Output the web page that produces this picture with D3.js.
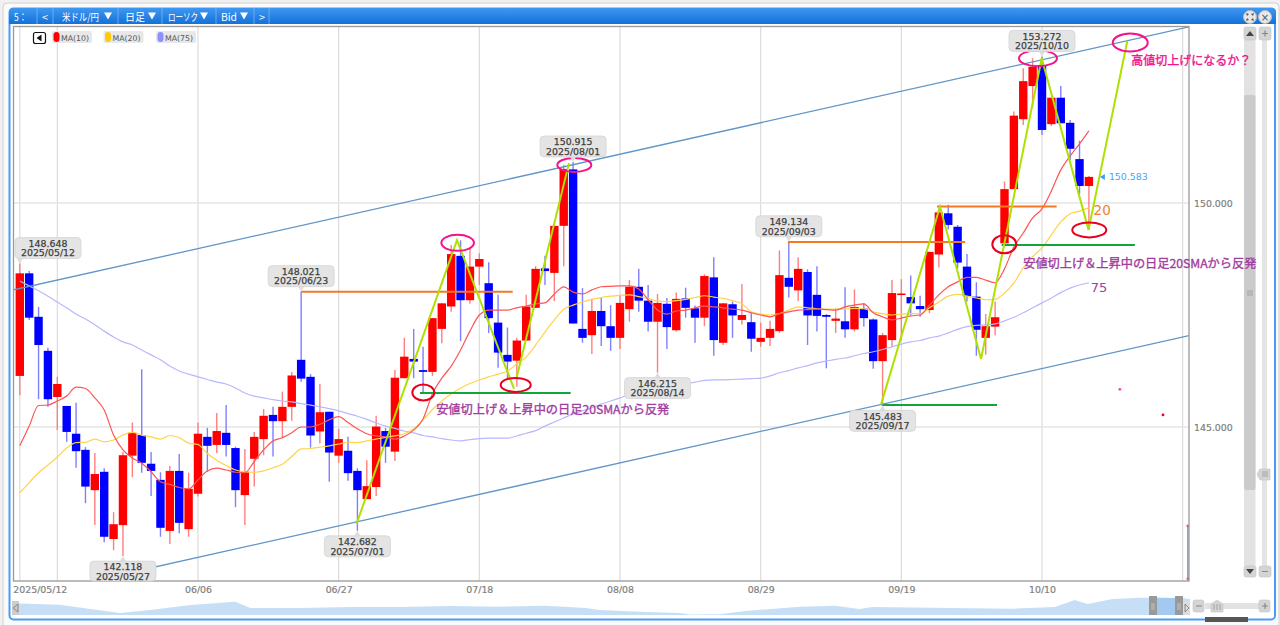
<!DOCTYPE html>
<html><head><meta charset="utf-8">
<script src="https://cdnjs.cloudflare.com/ajax/libs/d3/7.9.0/d3.min.js"></script>
<style>html,body{margin:0;padding:0;background:#f1f1f1;overflow:hidden}svg{display:block}</style>
</head><body><svg id="c" width="1280" height="625"></svg>
<script>
const dates=["05/12","05/13","05/14","05/15","05/16","05/19","05/20","05/21","05/22","05/23","05/26","05/27","05/28","05/29","05/30",
"06/02","06/03","06/04","06/05","06/06","06/09","06/10","06/11","06/12","06/13","06/16","06/17","06/18","06/19","06/20","06/23","06/24","06/25","06/26","06/27",
"06/30","07/01","07/02","07/03","07/04","07/07","07/08","07/09","07/10","07/11","07/14","07/15","07/16","07/17","07/18",
"07/21","07/22","07/23","07/24","07/25","07/28","07/29","07/30","07/31","08/01","08/04","08/05","08/06","08/07","08/08",
"08/11","08/12","08/13","08/14","08/15","08/18","08/19","08/20","08/21","08/22","08/25","08/26","08/27","08/28","08/29",
"09/01","09/02","09/03","09/04","09/05","09/08","09/09","09/10","09/11","09/12","09/15","09/16","09/17","09/18","09/19",
"09/22","09/23","09/24","09/25","09/26","09/29","09/30","10/01","10/02","10/03","10/06","10/07","10/08","10/09","10/10",
"10/13","10/14","10/15","10/16","10/17"];
const open=[146.14,148.43,147.46,146.70,145.67,145.47,144.85,144.49,143.59,144.00,142.50,142.81,144.36,144.82,144.18,143.82,142.68,144.02,142.72,143.51,144.78,144.60,144.87,144.53,143.48,144.29,144.73,145.27,145.13,145.45,146.50,146.12,144.90,145.34,144.36,144.47,144.02,143.39,143.66,144.91,144.45,146.09,146.52,146.27,146.23,147.19,147.69,148.82,147.83,148.58,148.21,147.33,146.61,146.48,146.93,147.66,148.54,148.44,149.49,150.75,147.19,147.05,147.59,147.25,146.99,147.63,148.13,147.82,147.35,147.75,147.16,147.87,147.65,147.44,148.34,146.88,147.74,147.39,147.34,146.90,146.99,147.14,148.33,148.05,148.46,147.95,147.50,147.37,147.36,147.18,147.64,147.40,146.47,146.94,147.96,147.90,147.70,147.61,148.85,149.77,149.47,148.58,147.91,146.99,147.24,149.10,150.31,151.87,152.61,153.08,151.76,152.35,151.79,150.98,150.38];
const high=[148.648,148.48,147.68,146.77,146.12,145.47,145.54,144.55,144.42,144.08,143.10,144.44,145.10,146.29,144.44,143.99,144.13,144.40,143.98,145.10,144.98,145.31,145.49,144.56,144.51,144.89,145.40,145.45,145.79,146.23,148.021,146.18,145.96,145.34,144.96,144.78,144.08,144.26,145.25,144.98,146.27,146.99,147.19,146.79,147.43,147.77,149.06,149.17,149.02,148.88,148.68,147.95,147.22,146.99,147.95,148.59,148.82,149.50,150.85,150.915,148.10,147.86,147.88,147.72,147.95,148.28,148.53,148.17,147.97,147.88,148.00,148.11,147.71,148.41,148.79,147.77,147.80,148.19,147.55,147.33,147.37,148.94,149.134,148.79,148.52,148.59,147.52,147.65,148.12,148.07,147.77,147.42,147.10,148.28,148.30,148.38,147.93,148.91,149.87,149.96,149.51,148.86,148.23,147.52,147.80,150.48,152.04,153.01,153.23,153.272,152.35,152.61,151.85,151.39,150.60];
const low=[145.71,147.39,145.62,145.45,144.93,144.67,144.09,143.30,142.81,142.43,142.25,142.118,143.88,143.98,143.46,142.55,142.39,142.63,142.55,143.45,144.00,144.42,144.34,143.21,142.81,143.67,144.37,144.34,144.75,145.14,146.01,144.54,144.63,143.78,144.20,143.80,142.682,143.39,143.46,144.20,144.24,146.09,146.09,145.76,146.14,146.87,147.57,146.92,147.75,148.17,147.10,146.32,146.09,145.90,146.93,147.66,148.17,147.81,148.59,147.31,146.88,146.63,146.81,146.70,146.74,147.35,147.57,147.13,146.215,146.74,147.13,147.44,146.88,147.25,146.59,146.83,146.99,147.29,146.68,146.79,146.81,147.10,147.89,147.81,146.83,147.13,146.31,147.10,146.99,147.13,147.24,146.30,145.483,146.79,146.94,147.50,147.46,147.54,148.56,149.41,148.54,147.80,146.59,146.61,147.05,149.06,150.31,151.74,152.13,151.52,151.72,151.78,150.96,150.20,149.40];
const close=[148.43,147.44,146.83,145.62,145.96,144.89,144.46,143.67,143.95,142.55,142.83,144.37,144.87,144.20,144.02,142.75,144.02,142.86,143.62,144.85,144.58,144.91,144.60,143.59,144.00,144.78,145.25,145.13,145.45,146.15,146.08,144.81,145.33,144.43,144.73,143.97,143.59,143.68,145.01,144.56,146.10,146.57,146.46,146.23,147.43,147.76,148.86,147.83,148.58,148.75,147.43,146.66,146.46,146.93,147.69,148.53,148.48,149.49,150.76,147.31,146.99,147.59,147.25,146.99,147.77,148.13,147.82,147.35,147.77,147.23,147.86,147.66,147.44,148.37,146.94,147.76,147.49,147.50,146.97,146.99,147.19,148.39,148.13,148.53,147.49,147.48,147.46,147.42,147.18,147.68,147.43,146.47,147.05,147.99,147.98,147.76,147.63,148.91,149.79,149.51,148.67,147.92,147.17,147.25,147.45,150.31,151.95,152.72,153.04,151.63,152.35,151.78,151.21,150.38,150.583];
const ma10=[144.58,145.02,145.48,145.49,145.58,145.69,145.89,145.86,145.65,145.38,144.82,144.49,144.31,144.19,144.00,143.78,143.72,143.65,143.62,143.82,144.02,144.08,144.04,143.99,143.98,144.23,144.49,144.69,144.76,144.87,145.00,145.00,145.06,145.16,145.23,145.10,144.96,144.85,144.80,144.78,144.73,144.80,144.93,145.18,145.74,146.09,146.36,146.72,147.14,147.50,147.61,147.61,147.61,147.66,147.70,147.75,147.77,147.97,148.13,148.01,147.97,148.06,148.13,148.14,148.15,148.15,148.08,147.84,147.61,147.52,147.59,147.61,147.66,147.70,147.68,147.66,147.63,147.61,147.55,147.50,147.46,147.53,147.57,147.61,147.62,147.63,147.62,147.61,147.68,147.72,147.75,147.55,147.46,147.39,147.43,147.48,147.50,147.72,147.95,148.13,148.24,148.34,148.34,148.28,148.22,148.53,149.02,149.33,149.67,149.87,150.27,150.74,151.05,151.32,151.61];
const ma20=[143.53,143.76,143.98,144.15,144.33,144.53,144.65,144.66,144.73,144.67,144.71,144.82,144.88,144.82,144.78,144.73,144.81,144.76,144.64,144.61,144.41,144.26,144.14,144.04,144.00,143.99,144.02,144.09,144.17,144.34,144.51,144.52,144.55,144.58,144.62,144.66,144.65,144.69,144.73,144.77,144.80,144.85,144.96,145.16,145.39,145.58,145.74,145.87,145.97,146.05,146.12,146.18,146.25,146.41,146.56,146.83,147.12,147.39,147.63,147.72,147.79,147.85,147.89,147.92,147.94,147.95,147.91,147.87,147.81,147.80,147.82,147.85,147.89,147.93,147.90,147.87,147.82,147.75,147.57,147.52,147.50,147.53,147.61,147.68,147.66,147.64,147.63,147.63,147.63,147.65,147.64,147.57,147.53,147.50,147.52,147.53,147.53,147.66,147.79,147.92,147.96,147.92,147.88,147.84,147.85,147.99,148.21,148.55,148.80,149.00,149.29,149.58,149.76,149.82,149.89];
const ma75=[148.26,148.15,148.04,147.92,147.79,147.66,147.52,147.41,147.28,147.14,147.01,146.90,146.83,146.72,146.61,146.50,146.36,146.25,146.18,146.12,146.06,146.00,145.96,145.87,145.76,145.69,145.65,145.61,145.58,145.56,145.52,145.49,145.45,145.41,145.36,145.30,145.24,145.17,145.09,145.02,144.97,144.91,144.87,144.81,144.78,144.74,144.71,144.69,144.72,144.74,144.75,144.75,144.75,144.80,144.86,144.92,145.02,145.11,145.20,145.29,145.36,145.43,145.51,145.58,145.65,145.72,145.77,145.82,145.84,145.86,145.90,145.96,146.00,146.04,146.05,146.05,146.06,146.07,146.08,146.09,146.14,146.21,146.26,146.32,146.37,146.43,146.47,146.51,146.54,146.59,146.64,146.68,146.73,146.79,146.85,146.90,146.93,146.99,147.03,147.10,147.18,147.24,147.27,147.28,147.30,147.37,147.45,147.55,147.66,147.77,147.88,148.00,148.10,148.17,148.22];
const xTickDays=[0,4,19,34,49,64,79,94,109,124];
const xTickLabels=["2025/05/12","","06/06","06/27","07/18","08/08","08/29","09/19","10/10",""];
const yTicks=[145,150];
const calloutDays=[0,11,30,36,59,68,82,92,109];
const calloutAbove=[1,0,1,0,1,0,1,0,1];
const lastPrice=150.583;
const navPos=[0,0.5,3.9,6.5,9,11.6,15,18.8,20.1,24.3,28.6,32.8,37.1,41.3,45.2,48.6,49.8,53.2,56.6,57.5,60,62.2,66.8,69.8,71.9,73,79.6,85,88.5,90.2,91.3,93.4,95.7,99.2,100];
const navLevel=[12,11.5,10.3,6,2,5,10,13.3,7,7,8,8,9,8.3,9.3,7,5,3.3,2,0.5,0.7,4,8.3,9.3,6,8,7,6.3,8,15,11,16,17.3,17,16];
// overlay drawings, in [day index, price]
const channelLines=[[[-0.69,148.06],[124.68,153.93]],[[8.2,141.585],[124.68,147.04]],[[124.55,142.79],[124.55,141.585]]];
const limeLines=[[[35.9,142.835],[46.62,149.17],[52.7,145.85]],[[52.96,146.09],[58.56,150.89]],[[91.83,145.5],[98.12,149.92],[102.5,146.52],[108.97,153.23],[113.96,149.4],[118.1,153.62]]];
const orangeLines=[[[29.98,148.02],[52.56,148.02]],[[81.9,149.13],[100.8,149.13]],[[97.8,149.92],[110.56,149.92]]];
const greenLines=[[[42.67,145.76],[58.74,145.76]],[[91.9,145.49],[104.2,145.49]],[[104.7,149.06],[118.9,149.06]]];
const pinkRings=[[46.69,149.11,16.3,8],[59.13,150.85,17,7],[108.57,153.23,19,8],[118.41,153.58,17.5,9]];
const redRings=[[43.03,145.77,11,8],[52.88,145.94,15,7],[104.98,149.08,12,9],[114.04,149.4,17,7.5]];
const dots=[[117.3,145.84,"#ff40b0"],[121.9,145.27,"#e8001c"],[124.55,142.79,"#ff5050"],[124.55,141.61,"#ff5050"]];
const notes=[["安値切上げ＆上昇中の日足20SMAから反発",44.4,145.28,"#a23ca0"],["安値切上げ＆上昇中の日足20SMAから反発",107,148.56,"#a23ca0"],["高値切上げになるか？",118.52,153.07,"#f0148c"]];
const maLabels=[["20",114.5,149.73,"#f08030",13.5],["75",114.2,148.02,"#a23ca0",13]];

const svg=d3.select("#c");
const F='"DejaVu Sans",sans-serif', J='"Noto Sans CJK JP",sans-serif';
const P={l:14,r:1189,t:26.5,b:581};
const x=d3.scaleLinear().domain([0,114]).range([19.8,1088.9]);
const y=d3.scaleLinear().domain([145,150]).range([427,203]);
const defs=svg.append("defs");
const g0=defs.append("linearGradient").attr("id","hd").attr("x1",0).attr("x2",0).attr("y1",0).attr("y2",1);
g0.append("stop").attr("offset",0).attr("stop-color","#3f97f2");g0.append("stop").attr("offset",1).attr("stop-color","#1371d8");
defs.append("clipPath").attr("id","plot").append("rect").attr("x",P.l).attr("y",P.t).attr("width",P.r-P.l).attr("height",P.b-P.t);

// window
svg.append("rect").attr("x",3).attr("y",3).attr("width",1276).attr("height",630).attr("rx",4).attr("fill","#fafafa").attr("stroke","#d0d0d0");
svg.append("rect").attr("x",9.5).attr("y",8.5).attr("width",1265.5).attr("height",611).attr("rx",4).attr("fill","#fff").attr("stroke","#4a9cf5").attr("stroke-width",2);
svg.append("path").attr("d","M9 24V12q0-4 4-4H1272q4 0 4 4V24Z").attr("fill","url(#hd)");
// header labels: [text, left, width]
const hdr=[["5：",14,13],["<",42,6],["米ドル/円",62,37],["日足",125,20],["ローソク",168,30],["Bid",221,16],[">",259,6]];
svg.selectAll(".h").data(hdr).join("text").attr("x",d=>d[1]).attr("y",20.5).attr("textLength",d=>d[2]).attr("lengthAdjust","spacingAndGlyphs").attr("font-family",J).attr("font-size",10.5).attr("fill","#fff").text(d=>d[0]);
svg.selectAll(".t").data([104,148,200,240]).join("path").attr("d",d=>`M${d} 12.5h8l-4 7z`).attr("fill","#fff");
svg.selectAll(".s").data([37,53,118,162,216,254,269]).join("line").attr("x1",d=>d).attr("x2",d=>d).attr("y1",8).attr("y2",24).attr("stroke","#7ab4ee").attr("stroke-width",.8);
[1250,1265].forEach(c=>{svg.append("circle").attr("cx",c).attr("cy",17).attr("r",6.5).attr("fill","#e8e8e8").attr("stroke","#bbb");});
svg.append("text").attr("x",1265).attr("y",20.5).attr("text-anchor","middle").attr("font-size",10).attr("font-family",F).attr("fill","#555").text("×");
svg.append("path").attr("d","M1246 13l3 1-2 2zM1254 13l-3 1 2 2zM1246 21l3-1-2-2zM1254 21l-3-1 2-2z").attr("fill","#555");

// grid
const plot=svg.append("g").attr("clip-path","url(#plot)");
plot.selectAll(".vg").data(xTickDays).join("line").attr("x1",d=>x(d)).attr("x2",d=>x(d)).attr("y1",P.t).attr("y2",P.b).attr("stroke","#dcdcdc").attr("stroke-width",1.2);
plot.selectAll(".hg").data(yTicks).join("line").attr("x1",P.l).attr("x2",P.r).attr("y1",d=>y(d)).attr("y2",d=>y(d)).attr("stroke","#e4e4e4").attr("stroke-width",1.5);

// candles
const idx=d3.range(dates.length), up=i=>close[i]>=open[i];
const C={u:"#ff0000",d:"#0000ff",uw:"#ff7f7f",dw:"#7f7fff"};
plot.selectAll(".w").data(idx).join("line").attr("x1",x).attr("x2",x).attr("y1",i=>y(high[i])).attr("y2",i=>y(low[i])).attr("stroke",i=>up(i)?C.uw:C.dw).attr("stroke-width",1.4);
plot.selectAll(".b").data(idx).join("rect").attr("x",i=>x(i)-4.2).attr("width",8.4).attr("y",i=>y(Math.max(open[i],close[i]))).attr("height",i=>Math.max(1.5,Math.abs(y(open[i])-y(close[i])))).attr("fill",i=>up(i)?C.u:C.d);

// moving averages
const ln=d3.line().x((d,i)=>x(i)).y(d=>y(d)).curve(d3.curveMonotoneX);
[[ma75,"#b8b8ff"],[ma20,"#ffd348"],[ma10,"#ff5555"]].forEach(([s,c])=>plot.append("path").attr("d",ln(s)).attr("fill","none").attr("stroke",c).attr("stroke-width",1.2));

// drawings
const seg=d3.line().x(d=>x(d[0])).y(d=>y(d[1]));
const draw=(arr,c,w)=>plot.selectAll(null).data(arr).join("path").attr("d",seg).attr("fill","none").attr("stroke",c).attr("stroke-width",w);
draw(orangeLines,"#f87820",2);draw(greenLines,"#12a53c",2);draw(channelLines,"#6095c6",1.3);draw(limeLines,"#aee000",2);
const rings=(arr,c)=>plot.selectAll(null).data(arr).join("ellipse").attr("cx",d=>x(d[0])).attr("cy",d=>y(d[1])).attr("rx",d=>d[2]).attr("ry",d=>d[3]).attr("fill","none").attr("stroke",c).attr("stroke-width",2);
rings(pinkRings,"#f4148a");rings(redRings,"#e8001c");
plot.selectAll(null).data(dots).join("circle").attr("cx",d=>x(d[0])).attr("cy",d=>y(d[1])).attr("r",1.4).attr("fill",d=>d[2]);

// frame
svg.append("rect").attr("x",P.l-.5).attr("y",P.t).attr("width",P.r-P.l+.5).attr("height",P.b-P.t).attr("fill","none").attr("stroke","#999").attr("stroke-width",1.3);

// axes
const xa=d3.axisBottom(x).tickValues(xTickDays).tickSize(0).tickPadding(5).tickFormat((d,i)=>xTickLabels[i]);
const gx=svg.append("g").attr("transform",`translate(0,${P.b})`).call(xa);
const ya=d3.axisRight(y).tickValues(yTicks).tickSize(0).tickPadding(5).tickFormat(d3.format(".3f"));
const gy=svg.append("g").attr("transform",`translate(${P.r},0)`).call(ya);
[gx,gy].forEach(g=>{g.select(".domain").remove();g.selectAll("text").attr("font-family",F).attr("font-size",9.4).attr("fill","#808080").attr("stroke","#808080").attr("stroke-width",.2);});
gx.selectAll("text").attr("dy","0.75em").filter((d,i)=>i==0).attr("x",20);

// legend
svg.append("rect").attr("x",33.5).attr("y",32.5).attr("width",12).attr("height",11).attr("rx",2).attr("fill","#fff").attr("stroke","#111").attr("stroke-width",1.2);
svg.append("path").attr("d","M36.5 38l5-3.5v7z").attr("fill","#111");
const leg=[["MA(10)",52,"#ff0000"],["MA(20)",103.5,"#ffcc00"],["MA(75)",156,"#8f8fff"]];
leg.forEach(([t,l,c])=>{
 svg.append("rect").attr("x",l).attr("y",31).attr("width",40).attr("height",12).attr("rx",2).attr("fill","#e8e8e8");
 svg.append("rect").attr("x",l+1.5).attr("y",32).attr("width",6).attr("height",10).attr("rx",3).attr("fill",c);
 svg.append("text").attr("x",l+9).attr("y",40.5).attr("font-family",F).attr("font-size",7.8).attr("fill","#555").text(t);
});

// callouts
calloutDays.forEach((d,k)=>{
 const a=calloutAbove[k], v=a?high[d]:low[d], px=x(d), py=y(v);
 const w=66,h=21,bx=Math.max(15,px-w/2), by=a?py-5-h:py+5;
 const g=svg.append("g");
 g.append("path").attr("d",a?`M${px-3} ${by+h}L${px} ${py}L${px+3} ${by+h}Z`:`M${px-3} ${by}L${px} ${py}L${px+3} ${by}Z`).attr("fill","#dedede");
 g.append("rect").attr("x",bx).attr("y",by).attr("width",w).attr("height",Math.min(h,P.b-by)).attr("rx",4).attr("fill","#e4e4e4").attr("stroke","#d4d4d4").attr("stroke-width",.8);
 [d3.format(".3f")(v),"2025/"+dates[d]].forEach((t,j)=>g.append("text").attr("x",bx+w/2).attr("y",by+9.2+j*9.6).attr("text-anchor","middle").attr("font-family",F).attr("font-size",9.4).attr("fill","#404040").attr("stroke","#404040").attr("stroke-width",.25).text(t));
});

// scrollbars
const btn=(bx,by,w,h)=>svg.append("rect").attr("x",bx).attr("y",by).attr("width",w).attr("height",h).attr("rx",2).attr("fill","#d4d4d4").attr("stroke","#c4c4c4").attr("stroke-width",.6);
svg.append("rect").attr("x",1244).attr("y",40).attr("width",11.5).attr("height",526).attr("fill","#e2e2e2");
svg.append("rect").attr("x",1244).attr("y",95).attr("width",11.5).attr("height",395).attr("rx",2).attr("fill","#cbcbcb");
svg.append("rect").attr("x",1262).attr("y",40).attr("width",5).attr("height",526).attr("fill","#e4e4e4");
btn(1244,27,12,13);btn(1244,566,12,11);btn(1259,27,12,13);btn(1259,566,12,11);
svg.append("path").attr("d","M1246 36l4-5 4 5zM1246 569h8l-4 5z").attr("fill","#444");
svg.append("path").attr("d","M1262 33.5h6M1265 30.5v6M1262 571.5h6").attr("stroke","#888").attr("stroke-width",1.2);
svg.append("path").attr("d","M1247 291h6M1247 293h6M1247 295h6").attr("stroke","#999").attr("stroke-width",.8);
svg.append("path").attr("d","M1257 474l3-5h10v11h-10z").attr("fill","#d4d4d4").attr("stroke","#c4c4c4").attr("stroke-width",.6);
svg.append("path").attr("d","M1262 472h6M1262 474h6M1262 476h6").attr("stroke","#999").attr("stroke-width",.8);

// notes (above the scrollbars, as in the screenshot)
svg.selectAll(null).data(notes).join("text").attr("x",d=>x(d[1])).attr("y",d=>y(d[2])).attr("font-family",J).attr("font-size",d=>d[0].length>12?12.2:12).attr("fill",d=>d[3]).attr("stroke",d=>d[3]).attr("stroke-width",.35).text(d=>d[0]);
svg.selectAll(null).data(maLabels).join("text").attr("x",d=>x(d[1])).attr("y",d=>y(d[2])).attr("font-family",F).attr("font-size",d=>d[4]).attr("fill",d=>d[3]).text(d=>d[0]);
const ly=y(lastPrice);
svg.append("path").attr("d",`M${x(114)+11} ${ly}l5-3v6z`).attr("fill","#3d9df5");
svg.append("text").attr("x",x(114)+20).attr("y",ly+3.5).attr("font-family",F).attr("font-size",9.4).attr("fill","#45a5f8").text(d3.format(".3f")(lastPrice));

// navigator
const nx=d3.scaleLinear().domain([0,100]).range([14,1190]);
const ny=d3.scaleLinear().domain([0,20]).range([615,595]);
const area=d3.area().x((d,i)=>nx(navPos[i])).y0(615).y1(d=>ny(d));
defs.append("clipPath").attr("id","navsel").append("rect").attr("x",1157).attr("y",590).attr("width",18).attr("height",30);
svg.append("path").attr("d",area(navLevel)).attr("fill","#c7dff6");
svg.append("path").attr("d",area(navLevel)).attr("fill","#a3c9f0").attr("clip-path","url(#navsel)");
svg.append("rect").attr("x",12).attr("y",601).attr("width",7).attr("height",14).attr("fill","#ccc");
svg.append("path").attr("d","M18 604v8l-5-4z").attr("fill","none").attr("stroke","#888");
[1149,1175].forEach(h=>{svg.append("rect").attr("x",h).attr("y",596).attr("width",8).attr("height",19).attr("fill","#999");
 svg.append("path").attr("d",`M${h+3} 603v7M${h+5} 603v7`).attr("stroke","#ccc").attr("stroke-width",.8);});
svg.append("rect").attr("x",1183).attr("y",601).attr("width",7).attr("height",14).attr("fill","#ddd");
svg.append("path").attr("d","M1185 604v8l4-4z").attr("fill","none").attr("stroke","#888");
svg.append("rect").attr("x",1205).attr("y",603).attr("width",55).attr("height",6).attr("fill","#e2e2e2");
btn(1193,600,11,12);btn(1259,600,11,12);
svg.append("path").attr("d","M1211 604l6-4 6 4v8h-12z").attr("fill","#d4d4d4").attr("stroke","#c4c4c4").attr("stroke-width",.6);
svg.append("path").attr("d","M1214 604v6M1217 604v6M1220 604v6").attr("stroke","#999").attr("stroke-width",.8);
svg.append("path").attr("d","M1196 606h6M1262 606h6M1265 603v6").attr("stroke","#888").attr("stroke-width",1.2);
svg.append("rect").attr("x",1205).attr("y",617).attr("width",43).attr("height",5).attr("fill","#555");
</script></body></html>
